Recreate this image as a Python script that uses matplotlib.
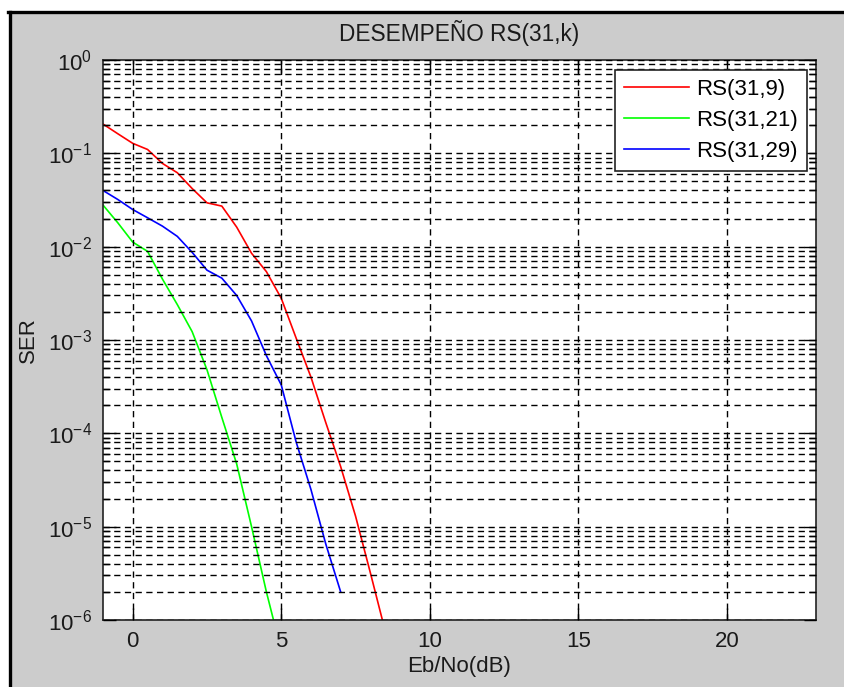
import numpy as np
import matplotlib
matplotlib.use('Agg')
import matplotlib.pyplot as plt
import matplotlib.ticker as ticker
from matplotlib.patches import Rectangle
from matplotlib.lines import Line2D

plt.rcParams['font.family'] = ['Liberation Sans', 'DejaVu Sans']

# Eb/No (dB) and SER
ebno_9 = [-1, -0.5, 0, 0.5, 1, 1.5, 2, 2.5, 3, 3.5, 4, 4.5, 5, 5.5, 6, 6.5, 7, 7.5, 8, 8.5]
ser_9 = [0.206, 0.162, 0.128, 0.11, 0.078, 0.062, 0.042, 0.0295, 0.0272, 0.0162, 0.0085,
         0.0054, 0.0028, 1.05e-3, 4.0e-4, 1.3e-4, 4.4e-5, 1.3e-5, 3.2e-6, 7.6e-7]

ebno_21 = [-1, -0.5, 0, 0.5, 1, 1.5, 2, 2.5, 3, 3.5, 4, 4.5, 5]
ser_21 = [0.0279, 0.018, 0.0112, 0.0089, 0.0045, 0.0024, 0.00123, 4.8e-4, 1.48e-4,
          4.7e-5, 1.0e-5, 2.0e-6, 4.7e-7]

ebno_29 = [-1, -0.5, 0, 0.5, 1, 1.5, 2, 2.5, 3, 3.5, 4, 4.5, 5, 5.5, 6, 6.5, 7]
ser_29 = [0.040, 0.032, 0.025, 0.0204, 0.0166, 0.0129, 0.0087, 0.0056, 0.0046, 0.0030,
          0.0016, 6.8e-4, 3.3e-4, 8.1e-5, 2.5e-5, 6.5e-6, 2.0e-6]

labels = ['RS(31,9)', 'RS(31,21)', 'RS(31,29)']
colors = ['#ff0000', '#00ff00', '#0000ff']
xticks = [0, 5, 10, 15, 20]
yticks = [1e-6, 1e-5, 1e-4, 1e-3, 1e-2, 1e-1, 1e0]

W, H = 844, 687
fig = plt.figure(figsize=(W / 100, H / 100), dpi=100)
fig.patch.set_facecolor('white')

# gray MATLAB figure area with black frame on left and top
fig.patches.append(Rectangle((10 / W, -0.01), 1.1, 1 - 12 / H + 0.01, transform=fig.transFigure,
                             facecolor='#cccccc', edgecolor='none', zorder=-10))
fig.lines.append(Line2D([9.5 / W, 9.5 / W], [0, 1 - 12 / H], transform=fig.transFigure,
                        color='black', lw=2.4))
fig.lines.append(Line2D([8 / W, 1], [1 - 12 / H, 1 - 12 / H], transform=fig.transFigure,
                        color='black', lw=2.4))

ax = fig.add_axes([103 / W, 1 - 620 / H, 713 / W, 560 / H])
ax.set_facecolor('white')

ax.semilogy(ebno_9, ser_9, color=colors[0], lw=1.2, label=labels[0])
ax.semilogy(ebno_21, ser_21, color=colors[1], lw=1.2, label=labels[1])
ax.semilogy(ebno_29, ser_29, color=colors[2], lw=1.2, label=labels[2])

ax.set_xlim(-1, 23)
ax.set_ylim(1e-6, 1)
ax.set_xticks(xticks)
ax.xaxis.set_minor_locator(ticker.NullLocator())
ax.yaxis.set_major_locator(ticker.FixedLocator(yticks))
ax.yaxis.set_major_formatter(ticker.LogFormatterSciNotation())
ax.yaxis.set_minor_locator(ticker.LogLocator(base=10, subs=np.arange(2, 10), numticks=20))
ax.yaxis.set_minor_formatter(ticker.NullFormatter())

grid_kw = dict(color='black', lw=1.0, linestyle=(0, (4.5, 3.2)))
ax.grid(True, which='major', axis='both', **grid_kw)
ax.grid(True, which='minor', axis='y', **grid_kw)
ax.set_axisbelow(False)

ax.tick_params(which='both', direction='in', top=True, right=True, color='black',
               labelsize=16, labelcolor='#1a1a1a')
ax.tick_params(which='major', length=9, width=1, pad=8)
ax.tick_params(which='minor', length=5, width=1)
for s in ax.spines.values():
    s.set_linewidth(1.2)
    s.set_color('#222222')

ax.set_title('DESEMPEÑO RS(31,k)', fontsize=16.3, pad=14, color='#1a1a1a')
ax.set_xlabel('Eb/No(dB)', fontsize=16, labelpad=3, color='#1a1a1a')
ax.set_ylabel('SER', fontsize=16, labelpad=6, color='#1a1a1a')

leg = ax.legend(loc='upper right', bbox_to_anchor=(1 - 9 / 713, 1 - 10 / 560),
                borderaxespad=0, fontsize=16, fancybox=False, framealpha=1,
                edgecolor='#222222', handlelength=2.9, handletextpad=0.35,
                labelspacing=0.45, borderpad=0.4)
leg.get_frame().set_linewidth(1.2)

fig.savefig('out.png', dpi=100, facecolor=fig.get_facecolor())
